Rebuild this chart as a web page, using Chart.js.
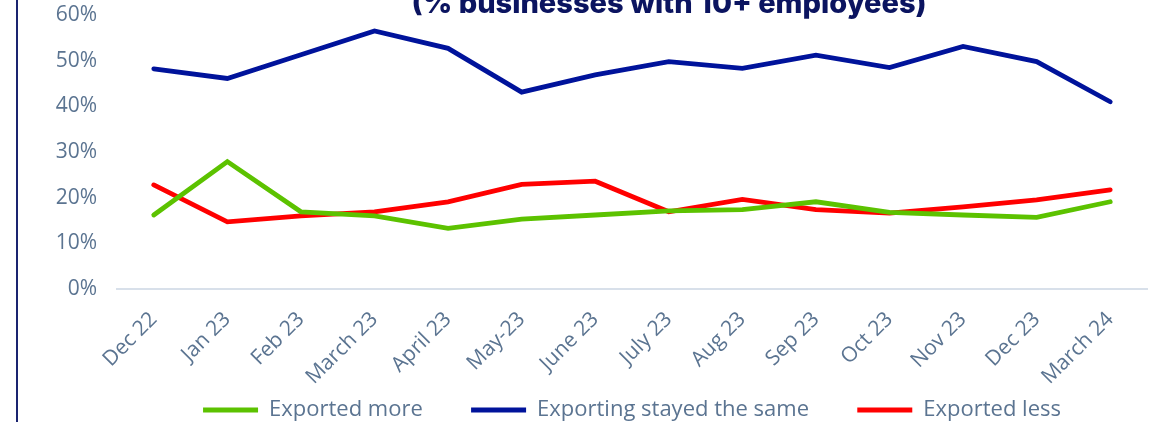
<!DOCTYPE html>
<html lang="en">
<head>
    <meta charset="UTF-8">
    <title>Exports trend</title>
    <script src="https://cdn.jsdelivr.net/npm/chart.js@4.4.1/dist/chart.umd.min.js"></script>
    <style>
        html, body {
    margin: 0;
    padding: 0;
    background: #ffffff;
    overflow: hidden;
}
.wrap {
    position: relative;
    width: 1171px;
    height: 422px;
}
.frame-line {
    position: absolute;
    left: 16px;
    top: 0;
    width: 2px;
    height: 422px;
    background: #1a2470;
}
    </style>
</head>
<body>
    <div class="wrap">
        <div class="frame-line"></div>
        <canvas id="exportChart" width="1171" height="422"></canvas>
    </div>

    <script>
const months = ['Dec 22', 'Jan 23', 'Feb 23', 'March 23', 'April 23', 'May-23', 'June 23',
    'July 23', 'Aug 23', 'Sep 23', 'Oct 23', 'Nov 23', 'Dec 23', 'March 24'];
const exportedMore = [16.2, 27.9, 16.9, 16.0, 13.3, 15.3, 16.2, 17.1, 17.4, 19.1, 16.8, 16.2, 15.7, 19.1];
const stayedSame = [48.2, 46.1, 51.3, 56.5, 52.7, 43.1, 46.9, 49.8, 48.3, 51.2, 48.5, 53.1, 49.8, 41.0];
const exportedLess = [22.8, 14.7, 16.0, 16.9, 19.1, 22.9, 23.6, 16.9, 19.6, 17.4, 16.6, 18.0, 19.5, 21.7];
const yTicks = [0, 10, 20, 30, 40, 50, 60];
const titleText = '(% businesses with 10+ employees)';

const textColor = '#5b7491';
const fontName = "'Open Sans', sans-serif";

// title is cut off by the top of the picture, draw it by hand
const clippedTitle = {
    id: 'clippedTitle',
    afterDraw(chart) {
        const ctx = chart.ctx;
        ctx.save();
        ctx.font = "800 29px Inter, sans-serif";
        ctx.fillStyle = '#0b1460';
        ctx.textAlign = 'center';
        ctx.textBaseline = 'alphabetic';
        ctx.fillText(titleText, 669, 13);
        ctx.restore();
    }
};

function lineSet(label, data, color) {
    return {
        label: label,
        data: data,
        borderColor: color,
        backgroundColor: color,
        borderWidth: 4.8,
        borderCapStyle: 'round',
        pointStyle: 'line',
        pointRadius: 0,
        pointHoverRadius: 0,
        tension: 0,
        fill: false
    };
}

const ctx = document.getElementById('exportChart').getContext('2d');
const chart = new Chart(ctx, {
    type: 'line',
    data: {
        labels: months,
        datasets: [
            lineSet('Exported more', exportedMore, '#5cc200'),
            lineSet('Exporting stayed the same', stayedSame, '#00139b'),
            lineSet('Exported less', exportedLess, '#ff0000')
        ]
    },
    options: {
        responsive: false,
        animation: false,
        layout: {
            padding: { top: 15, right: 24, bottom: -9, left: 0 }
        },
        plugins: {
            title: { display: false },
            tooltip: { enabled: false },
            legend: {
                position: 'bottom',
                fullSize: false,
                labels: {
                    color: textColor,
                    font: { family: fontName, size: 22 },
                    usePointStyle: true,
                    pointStyle: 'line',
                    pointStyleWidth: 55,
                    padding: 14,
                    // wider gap between the legend entries
                    generateLabels(chart) {
                        const items = Chart.defaults.plugins.legend.labels.generateLabels(chart);
                        items.forEach((item, i) => {
                            if (i < items.length - 1) item.text += '      ';
                        });
                        return items;
                    }
                }
            }
        },
        scales: {
            x: {
                type: 'category',
                offset: true,
                grid: { display: false, drawTicks: false },
                border: { display: true, color: '#d8e0ea', width: 2 },
                ticks: {
                    color: textColor,
                    font: { family: fontName, size: 21 },
                    maxRotation: 45,
                    minRotation: 45,
                    padding: 18,
                    autoSkip: false
                },
                afterFit(scale) {
                    scale.height = 96;
                }
            },
            y: {
                min: 0,
                max: 60,
                afterBuildTicks(scale) {
                    scale.ticks = yTicks.map(v => ({ value: v }));
                },
                // tickLength (not drawn) keeps the labels off the plot without adding top padding
                grid: { display: false, drawTicks: true, tickLength: 20 },
                border: { display: false },
                ticks: {
                    color: textColor,
                    font: { family: fontName, size: 21 },
                    padding: 0,
                    callback: v => v + '%'
                },
                afterFit(scale) {
                    scale.width = 117;
                }
            }
        }
    },
    plugins: [clippedTitle]
});
    </script>
</body>
</html>
